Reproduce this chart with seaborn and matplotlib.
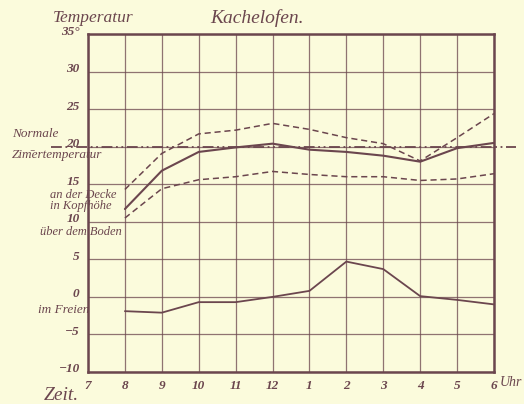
import numpy as np
import pandas as pd
import seaborn as sns
import matplotlib.pyplot as plt
import matplotlib.transforms as mtrans

hours = ['7', '8', '9', '10', '11', '12', '1', '2', '3', '4', '5', '6']
# Messwerte ab 8 Uhr bis 6 Uhr
decke = [14.3, 19.1, 21.7, 22.2, 23.1, 22.3, 21.2, 20.4, 18.1, 21.2, 24.4]
kopfhoehe = [11.7, 16.8, 19.3, 19.9, 20.4, 19.6, 19.3, 18.8, 18.0, 19.8, 20.5]
boden = [10.5, 14.4, 15.6, 16.0, 16.7, 16.3, 16.0, 16.0, 15.5, 15.7, 16.4]
freien = [-1.9, -2.1, -0.7, -0.7, 0.0, 0.8, 4.7, 3.7, 0.1, -0.4, -1.0]
normal = 20
yticks = [35, 30, 25, 20, 15, 10, 5, 0, -5, -10]
ylabels = ['35°', '30', '25', '20', '15', '10', '5', '0', '−5', '−10']

bg = '#fbfbdc'
ink = '#6b464e'

sns.set_style('white')
plt.rcParams['font.family'] = ['Liberation Serif', 'DejaVu Serif']
plt.rcParams['font.style'] = 'italic'

df = pd.DataFrame({'x': np.arange(1, 12), 'decke': decke, 'kopf': kopfhoehe,
                   'boden': boden, 'freien': freien})

fig = plt.figure(figsize=(5.24, 4.04), dpi=100, facecolor=bg)
ax = fig.add_axes([88/524, 32/404, 406/524, 338/404])
ax.set_facecolor(bg)

sns.lineplot(data=df, x='x', y='decke', ax=ax, color=ink, lw=1.1, linestyle=(0, (4, 2.5)))
sns.lineplot(data=df, x='x', y='kopf', ax=ax, color=ink, lw=1.5)
sns.lineplot(data=df, x='x', y='boden', ax=ax, color=ink, lw=1.1, linestyle=(0, (4, 2.5)))
sns.lineplot(data=df, x='x', y='freien', ax=ax, color=ink, lw=1.3)

ax.plot([-1.0, 11.6], [normal, normal], color=ink, lw=1.3, clip_on=False,
        linestyle=(0, (6, 2, 1, 2, 1, 2)))

ax.set_xlim(0, 11)
ax.set_ylim(-10, 35)
ax.set_xticks(range(12))
ax.set_xticklabels(hours)
ax.set_yticks(yticks)
ax.set_yticklabels(ylabels)
ax.grid(True, color=ink, lw=0.9, alpha=0.75)
for s in ax.spines.values():
    s.set_color(ink)
    s.set_linewidth(1.8)
ax.tick_params(length=0, colors=ink, labelsize=9.5, pad=6)
for t in ax.get_xticklabels() + ax.get_yticklabels():
    t.set_fontweight('bold')
# y labels sit a little above their grid lines, like in the print
shift = mtrans.ScaledTranslation(0, 4/100, fig.dpi_scale_trans)
for t in ax.get_yticklabels():
    t.set_transform(t.get_transform() + shift)
ax.set_xlabel('')
ax.set_ylabel('')

fig.text(53/524, 1 - 18/404, 'Temperatur', color=ink, fontsize=12.5, va='center')
fig.text(210/524, 1 - 18/404, 'Kachelofen.', color=ink, fontsize=14, va='center')
fig.text(12/524, 1 - 134/404, 'Normale', color=ink, fontsize=9.5, va='center')
fig.text(12/524, 1 - 155/404, 'Zim̄ertemperatur', color=ink, fontsize=9.5, va='center')
fig.text(50/524, 1 - 195/404, 'an der Decke', color=ink, fontsize=9, va='center')
fig.text(50/524, 1 - 206/404, 'in Kopfhöhe', color=ink, fontsize=9, va='center')
fig.text(40/524, 1 - 232/404, 'über dem Boden', color=ink, fontsize=9, va='center')
fig.text(38/524, 1 - 310/404, 'im Freien', color=ink, fontsize=9.5, va='center')
fig.text(44/524, 1 - 395/404, 'Zeit.', color=ink, fontsize=14, va='center')
fig.text(500/524, 1 - 383/404, 'Uhr', color=ink, fontsize=10, va='center')

fig.savefig('out.png', dpi=100, facecolor=bg)
